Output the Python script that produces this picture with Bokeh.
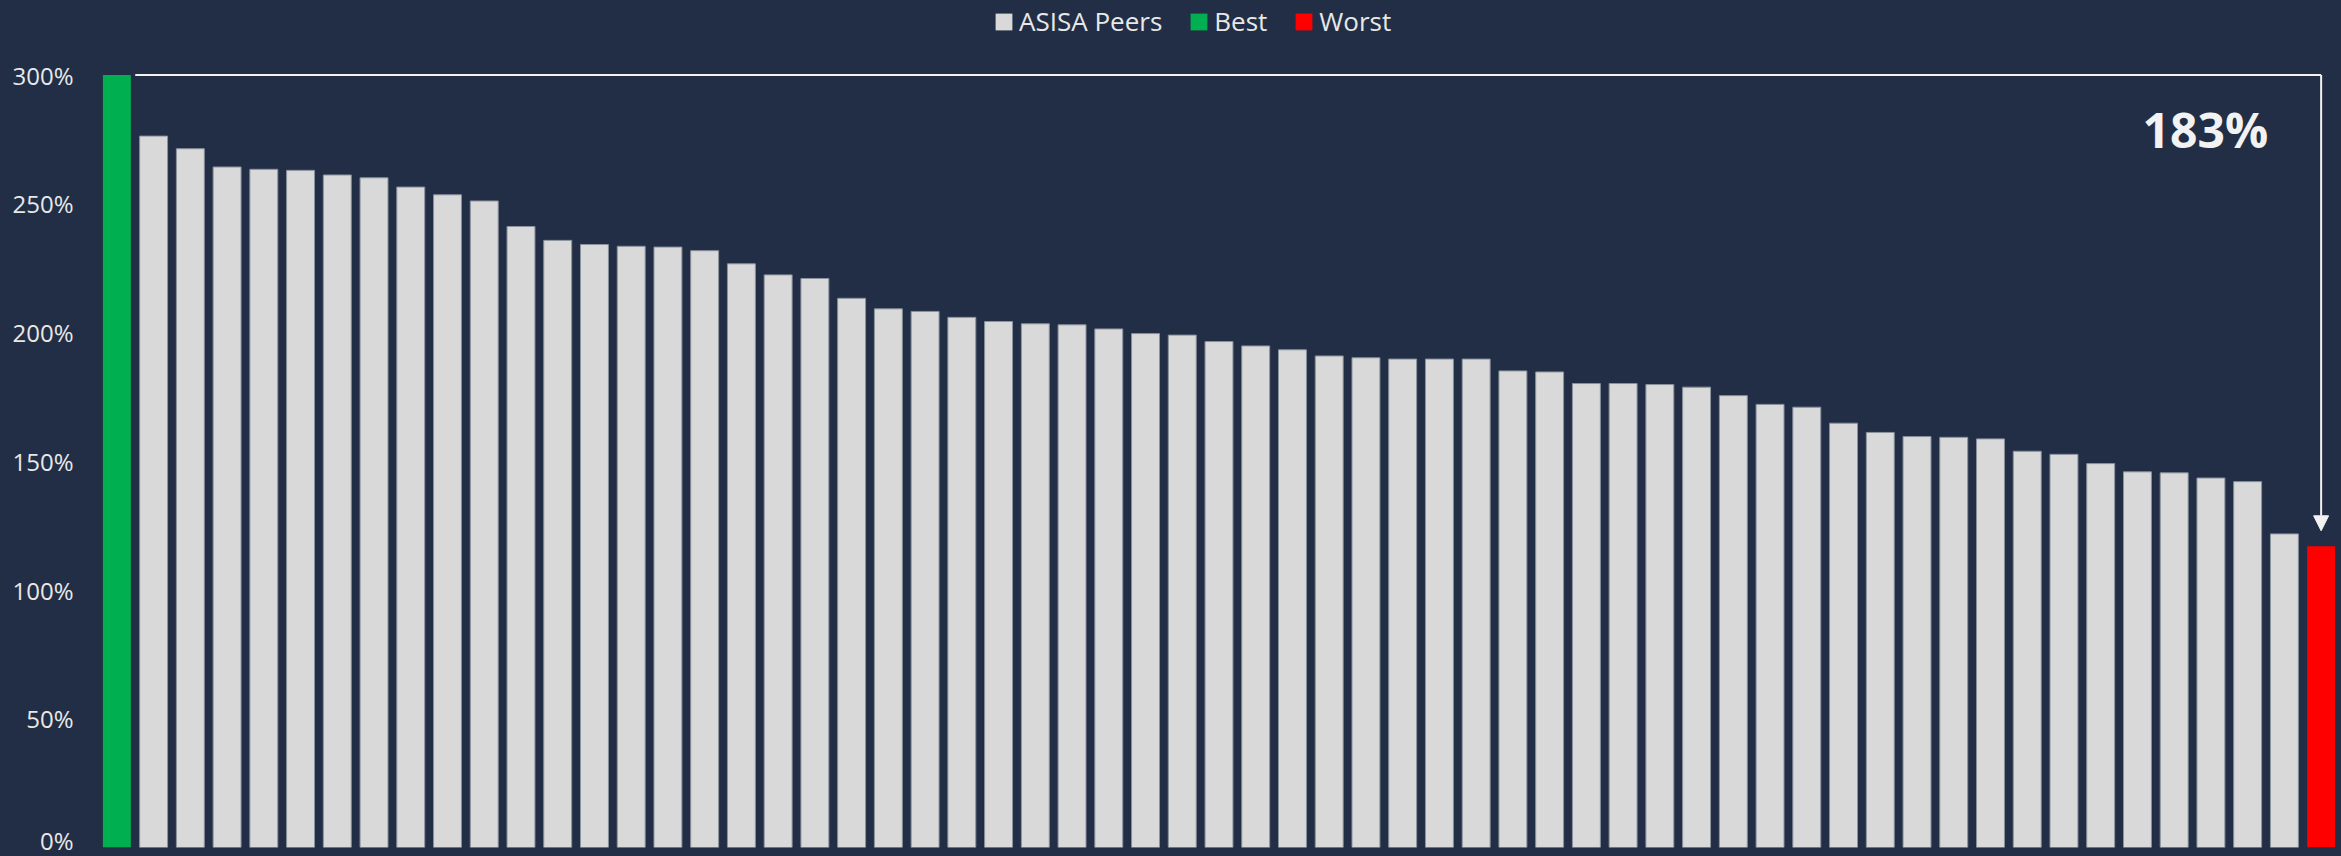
from bokeh.plotting import figure
from bokeh.layouts import column
from bokeh.models import (ColumnDataSource, Legend, LegendItem, Range1d,
                          PrintfTickFormatter, FixedTicker, Arrow, NormalHead, Label)
from bokeh.embed import file_html
from bokeh.resources import INLINE

# ---- data ----
series_names = ["ASISA Peers", "Best", "Worst"]
best_value = 300.0
peer_values = [276.3, 271.4, 264.3, 263.4, 263.0, 261.2, 260.1, 256.5, 253.5, 251.1, 241.2, 235.8, 234.2,
               233.5, 233.2, 231.8, 226.7, 222.4, 221.0, 213.3, 209.2, 208.2, 205.9, 204.3, 203.4, 203.0,
               201.4, 199.6, 199.0, 196.5, 194.8, 193.3, 190.9, 190.2, 189.7, 189.7, 189.7, 185.1, 184.7,
               180.2, 180.2, 179.8, 178.8, 175.5, 172.1, 171.0, 164.8, 161.2, 159.6, 159.3, 158.7, 153.9,
               152.7, 149.1, 145.9, 145.5, 143.5, 142.1, 121.8]
worst_value = 117.0
y_ticks = [0, 50, 100, 150, 200, 250, 300]

BG = "#222e45"
TXT = "#e8e8e8"
WHITE = "#f2f2f2"
PEER_FILL = "#d9d9d9"
PEER_LINE = "#8a929e"
BEST_FILL = "#00b050"
WORST_FILL = "#ff0000"

n = len(peer_values) + 2
best_x = [0]
peer_x = list(range(1, n - 1))
worst_x = [n - 1]

LEG_H = 40

# ---- main chart ----
p = figure(width=2341, height=856 - LEG_H, output_backend="svg", toolbar_location=None,
           x_range=Range1d(-0.5, n - 0.5), y_range=Range1d(0, 301),
           min_border_left=98, min_border_right=2, min_border_top=72 - LEG_H, min_border_bottom=9,
           background_fill_color=BG, border_fill_color=None, outline_line_color=None,
           styles={"background-color": BG})

p.xaxis.visible = False
p.xgrid.visible = False
p.ygrid.visible = False

ya = p.yaxis[0]
ya.ticker = FixedTicker(ticks=y_ticks)
ya.formatter = PrintfTickFormatter(format="%d%%")
ya.axis_line_color = None
ya.major_tick_line_color = None
ya.minor_tick_line_color = None
ya.major_tick_out = 0
ya.major_tick_in = 0
ya.major_label_standoff = 25
ya.major_label_text_font = "Open Sans"
ya.major_label_text_font_size = "24px"
ya.major_label_text_color = TXT

W = 0.76
p.vbar(x="x", top="top", width=W, bottom=0,
       source=ColumnDataSource(dict(x=peer_x, top=peer_values)),
       fill_color=PEER_FILL, line_color=PEER_LINE, line_width=1)
p.vbar(x="x", top="top", width=W, bottom=0,
       source=ColumnDataSource(dict(x=best_x, top=[best_value])),
       fill_color=BEST_FILL, line_color=None)
p.vbar(x="x", top="top", width=W, bottom=0,
       source=ColumnDataSource(dict(x=worst_x, top=[worst_value])),
       fill_color=WORST_FILL, line_color=None)

# difference annotation: line from best bar across to worst bar, arrow down
p.line(x=[best_x[0] + 0.5, worst_x[0]], y=[best_value, best_value], line_color=WHITE, line_width=2)
p.add_layout(Arrow(x_start=worst_x[0], y_start=best_value, x_end=worst_x[0], y_end=worst_value + 6,
                   line_color=WHITE, line_width=2,
                   end=NormalHead(size=15, fill_color=WHITE, line_color=WHITE)))
p.add_layout(Label(x=worst_x[0] - 3.15, y=best_value - 21, text=f"{best_value - worst_value:.0f}%",
                   text_font="Open Sans", text_font_style="bold", text_font_size="48px",
                   text_color=WHITE, text_align="center", text_baseline="middle"))

# ---- legend strip on top (swatch renderers sit far outside the visible ranges) ----
lg = figure(width=2341, height=LEG_H, output_backend="svg", toolbar_location=None,
            x_range=Range1d(0, 1), y_range=Range1d(0, 1), min_border=0,
            background_fill_color=BG, border_fill_color=None, outline_line_color=None,
            styles={"background-color": BG})
lg.axis.visible = False
lg.grid.visible = False
off = dict(x=[-10], top=[-5], bottom=[-6])
g_peer = lg.vbar(x="x", top="top", bottom="bottom", width=1, source=ColumnDataSource(off),
                 fill_color=PEER_FILL, line_color=None)
g_best = lg.vbar(x="x", top="top", bottom="bottom", width=1, source=ColumnDataSource(off),
                 fill_color=BEST_FILL, line_color=None)
g_worst = lg.vbar(x="x", top="top", bottom="bottom", width=1, source=ColumnDataSource(off),
                  fill_color=WORST_FILL, line_color=None)
legend = Legend(items=[LegendItem(label=series_names[0], renderers=[g_peer]),
                       LegendItem(label=series_names[1], renderers=[g_best]),
                       LegendItem(label=series_names[2], renderers=[g_worst])],
                orientation="horizontal", location=(895, 1),
                glyph_width=21, glyph_height=21, label_standoff=5, spacing=26,
                padding=0, margin=0, border_line_color=None, background_fill_alpha=0,
                label_text_font="Open Sans", label_text_font_size="26px", label_text_color=TXT)
lg.add_layout(legend)

layout = column(lg, p, spacing=0, styles={"background-color": BG})
open("out.html", "w").write(file_html(layout, INLINE))
